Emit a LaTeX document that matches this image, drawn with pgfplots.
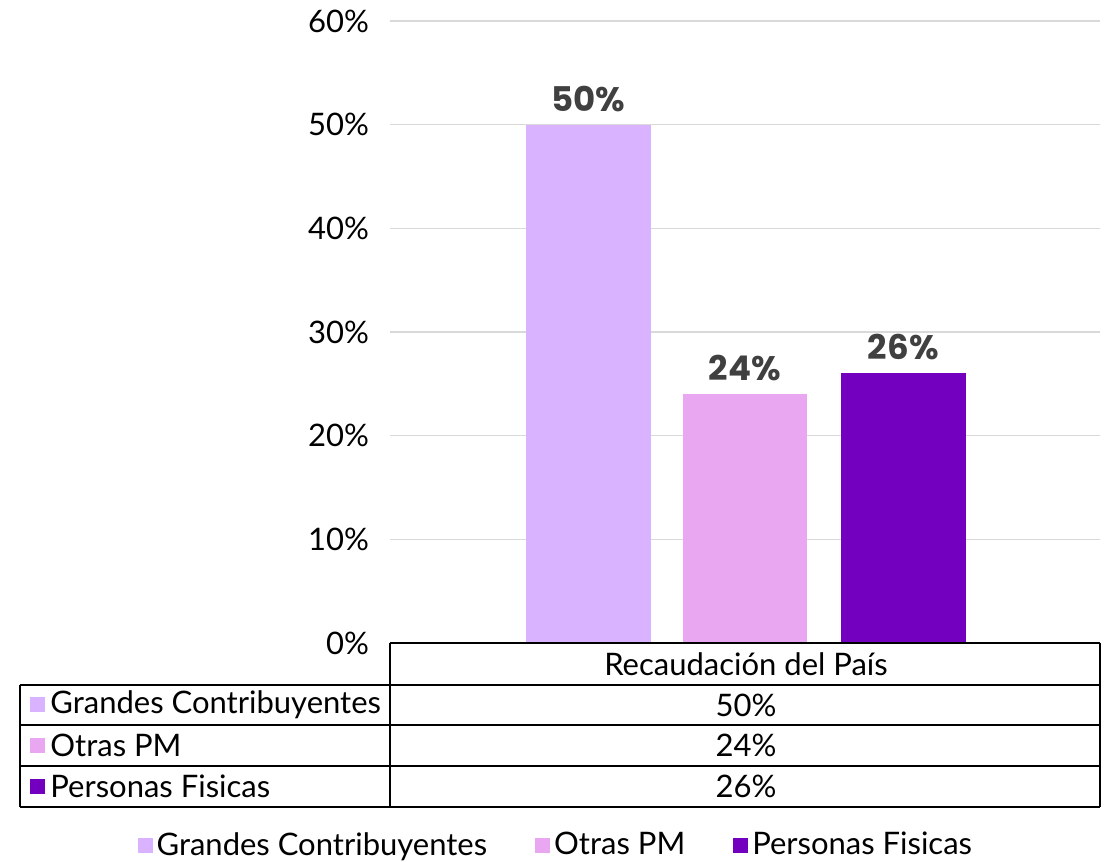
\documentclass[border=0pt]{standalone}
\usepackage{fontspec}
\setmainfont{Lato}
\newfontfamily\poppins{Poppins}
\usepackage{pgfplots}
\pgfplotsset{compat=1.18}
\definecolor{cA}{RGB}{217,179,255}
\definecolor{cB}{RGB}{232,167,240}
\definecolor{cC}{RGB}{115,0,191}
\definecolor{lbl}{RGB}{64,64,64}
\begin{document}
\begin{tikzpicture}
\path[use as bounding box] (-195pt,-109.5pt) rectangle (359.5pt,321.5pt);
\begin{axis}[
  name=ax,
  scale only axis,
  width=355pt, height=311pt,
  xmin=-0.5, xmax=0.5,
  ymin=0, ymax=60,
  ytick={0,10,20,30,40,50,60},
  yticklabel={\pgfmathprintnumber{\tick}\%},
  yticklabel style={font=\fontsize{15.5}{18}\selectfont, xshift=-7pt},
  /pgf/number format/assume math mode=true,
  xtick=\empty,
  major tick length=0pt,
  ymajorgrids,
  major grid style={draw=black!15, line width=0.75pt},
  axis line style={draw=none},
  ybar,
  bar width=0.176,
  nodes near coords={\pgfmathprintnumber{\pgfplotspointmeta}\%},
  every node near coord/.append style={font=\poppins\bfseries\fontsize{17}{19}\selectfont, text=lbl, anchor=center, yshift=13pt},
  legend style={at={(0.235,-0.325)}, anchor=center, draw=none, fill=none, legend columns=3,
    font=\fontsize{15.5}{18}\selectfont,
    /tikz/every even column/.append style={column sep=22pt},
    inner sep=0pt},
  legend image code/.code={\fill[#1] (0pt,-3.75pt) rectangle (7.5pt,3.75pt);},
]
\addplot[fill=cA, draw=none, bar shift=-0.221] coordinates {(0,50)};
\addplot[fill=cB, draw=none, bar shift=0] coordinates {(0,24)};
\addplot[fill=cC, draw=none, bar shift=0.223] coordinates {(0,26)};
\legend{Grandes Contribuyentes, Otras PM, Personas Fisicas}
\end{axis}
% data table
\begin{scope}[line width=1pt, draw=black]
\draw (0,0) -- (355pt,0);
\draw (0,0) -- (0,-82pt);
\draw (355pt,0) -- (355pt,-82pt);
\draw (-185pt,-21pt) -- (355pt,-21pt);
\draw (-185pt,-41pt) -- (355pt,-41pt);
\draw (-185pt,-61.5pt) -- (355pt,-61.5pt);
\draw (-185pt,-82pt) -- (355pt,-82pt);
\draw (-185pt,-21pt) -- (-185pt,-82pt);
\end{scope}
\begin{scope}[every node/.style={font=\fontsize{15.5}{18}\selectfont, inner sep=0pt}]
\node at (178pt,-10.5pt) {Recaudación del País};
\node at (178pt,-31pt) {50\%};
\node at (178pt,-51.25pt) {24\%};
\node at (178pt,-71.75pt) {26\%};
\fill[cA] (-180pt,-34.75pt) rectangle (-172.5pt,-27.25pt);
\fill[cB] (-180pt,-55pt) rectangle (-172.5pt,-47.5pt);
\fill[cC] (-180pt,-75.5pt) rectangle (-172.5pt,-68pt);
\node[anchor=west] at (-170pt,-31pt) {Grandes Contribuyentes};
\node[anchor=west] at (-170pt,-51.25pt) {Otras PM};
\node[anchor=west] at (-170pt,-71.75pt) {Personas Fisicas};
\end{scope}
\end{tikzpicture}
\end{document}
